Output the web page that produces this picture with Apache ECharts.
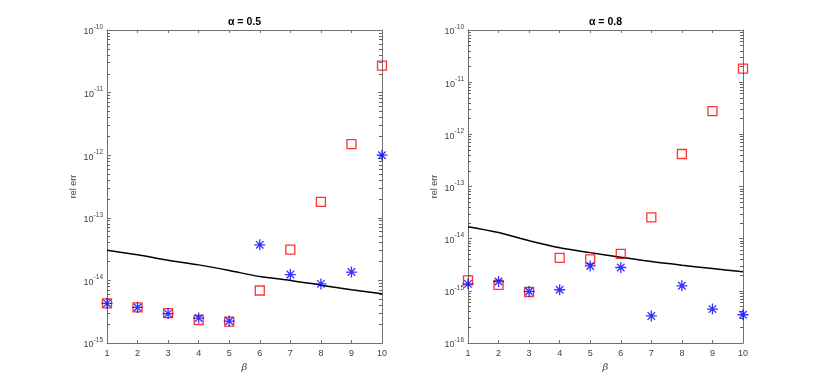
<!DOCTYPE html>
<html>
<head>
<meta charset="utf-8">
<script src="https://cdn.jsdelivr.net/npm/echarts@6/dist/echarts.min.js"></script>
<style>
  html, body { margin: 0; padding: 0; background: #fff; }
  #chart { width: 822px; height: 386px; }
</style>
</head>
<body>
<div id="chart"></div>
<script>
const beta = [1, 2, 3, 4, 5, 6, 7, 8, 9, 10];

// alpha = 0.5
const squares05 = [4.3e-15, 3.7e-15, 3.0e-15, 2.33e-15, 2.19e-15, 6.9e-15, 3.1e-14, 1.8e-13, 1.5e-12, 2.7e-11];
const stars05 = [4.3e-15, 3.7e-15, 2.95e-15, 2.5e-15, 2.24e-15, 3.7e-14, 1.24e-14, 8.8e-15, 1.36e-14, 1.0e-12];
const bound05 = [3.04e-14, 2.56e-14, 2.1e-14, 1.77e-14, 1.44e-14, 1.15e-14, 1.0e-14, 8.4e-15, 7.1e-15, 6.1e-15];

// alpha = 0.8
const squares08 = [1.58e-15, 1.3e-15, 9.5e-16, 4.3e-15, 4.0e-15, 5.1e-15, 2.57e-14, 4.2e-13, 2.78e-12, 1.82e-11];
const stars08 = [1.36e-15, 1.51e-15, 9.7e-16, 1.05e-15, 3.0e-15, 2.8e-15, 3.3e-16, 1.25e-15, 4.47e-16, 3.48e-16];
const bound08 = [1.7e-14, 1.31e-14, 9.1e-15, 6.7e-15, 5.4e-15, 4.4e-15, 3.64e-15, 3.1e-15, 2.67e-15, 2.31e-15];

const titles = ['α = 0.5', 'α = 0.8'];
const yMinExp = [-15, -16];
const yMaxExp = [-10, -10];

const axisCol = '#707070';
const textCol = '#404040';
const font = 'Liberation Sans, Arial, sans-serif';
const asterisk = 'path://M0,5L10,5M5,0L5,10M1.6,1.6L8.4,8.4M1.6,8.4L8.4,1.6';

const pairs = (ys) => beta.map((b, i) => [b, ys[i]]);

// minor tick positions (as exponents) for 2..9 x 10^k
function minorExps(lo, hi) {
  const out = [];
  for (let e = lo; e < hi; e++) {
    for (let m = 2; m <= 9; m++) out.push(e + Math.log10(m));
  }
  return out;
}

const chart = echarts.init(document.getElementById('chart'), null, { renderer: 'canvas' });

const grids = [
  { left: 107, right: 440, top: 30, bottom: 43 },
  { left: 468, right: 79, top: 30, bottom: 43 }
];

const xAxes = [];
const yAxes = [];
[0, 1].forEach(g => {
  const baseX = {
    type: 'value', gridIndex: g, min: 1, max: 10, interval: 1,
    axisLine: { lineStyle: { color: axisCol, width: 1 } },
    axisTick: { inside: true, length: 3, lineStyle: { color: axisCol } },
    splitLine: { show: false }
  };
  xAxes.push(Object.assign({}, baseX, {
    position: 'bottom',
    axisLabel: { color: textCol, fontSize: 9, fontFamily: font, margin: 6 },
    name: 'β', nameLocation: 'middle', nameGap: 18,
    nameTextStyle: { color: textCol, fontSize: 10, fontStyle: 'italic', fontFamily: 'DejaVu Serif, serif' }
  }));
  xAxes.push(Object.assign({}, baseX, {
    position: 'top',
    axisLabel: { show: false },
    name: titles[g], nameLocation: 'middle', nameGap: 2,
    nameTextStyle: { color: '#000', fontSize: 10.5, fontWeight: 'bold', fontFamily: font }
  }));
  const baseY = {
    type: 'log', logBase: 10, gridIndex: g,
    min: Math.pow(10, yMinExp[g]), max: Math.pow(10, yMaxExp[g]),
    axisLine: { show: true, lineStyle: { color: axisCol, width: 1 } },
    axisTick: { show: true, inside: true, length: 4, lineStyle: { color: axisCol } },
    splitLine: { show: false }
  };
  yAxes.push(Object.assign({}, baseY, {
    position: 'left',
    axisLabel: {
      margin: 4, fontFamily: font,
      formatter: v => '{b|10}{s|' + Math.round(Math.log10(v)) + '}',
      rich: {
        b: { fontSize: 9, color: textCol, fontFamily: font, verticalAlign: 'bottom' },
        s: { fontSize: 6.5, color: textCol, fontFamily: font, verticalAlign: 'bottom', padding: [0, 0, 6, 0] }
      }
    },
    name: 'rel err', nameLocation: 'middle', nameGap: 29,
    nameTextStyle: { color: textCol, fontSize: 9, fontFamily: font }
  }));
  yAxes.push(Object.assign({}, baseY, {
    position: 'right',
    axisLabel: { show: false }
  }));
  // exponent-space axes carrying only the minor ticks
  const minors = minorExps(yMinExp[g], yMaxExp[g]);
  ['left', 'right'].forEach(pos => {
    yAxes.push({
      type: 'value', gridIndex: g, position: pos,
      min: yMinExp[g], max: yMaxExp[g],
      axisLine: { show: false },
      axisTick: { show: true, inside: true, length: 3, customValues: minors, lineStyle: { color: '#606060', width: 1 } },
      axisLabel: { show: false },
      splitLine: { show: false }
    });
  });
});

const series = [];
[[squares05, stars05, bound05], [squares08, stars08, bound08]].forEach((set, g) => {
  const xi = 2 * g, yi = 4 * g;
  series.push({
    type: 'line', xAxisIndex: xi, yAxisIndex: yi,
    data: pairs(set[2]), showSymbol: false, smooth: 0.3,
    lineStyle: { color: '#000', width: 1.5 }, z: 2
  });
  series.push({
    type: 'scatter', xAxisIndex: xi, yAxisIndex: yi,
    data: pairs(set[0]), symbol: 'rect', symbolSize: 9,
    itemStyle: { color: 'rgba(0,0,0,0)', borderColor: '#ff0000', borderWidth: 1.3 }, z: 3
  });
  series.push({
    type: 'scatter', xAxisIndex: xi, yAxisIndex: yi,
    data: pairs(set[1]), symbol: asterisk, symbolSize: 11,
    itemStyle: { color: 'rgba(0,0,0,0)', borderColor: '#0000ff', borderWidth: 1.3 }, z: 4
  });
});

chart.setOption({
  animation: false,
  backgroundColor: '#fff',
  grid: grids,
  xAxis: xAxes,
  yAxis: yAxes,
  series: series
});
</script>
</body>
</html>
